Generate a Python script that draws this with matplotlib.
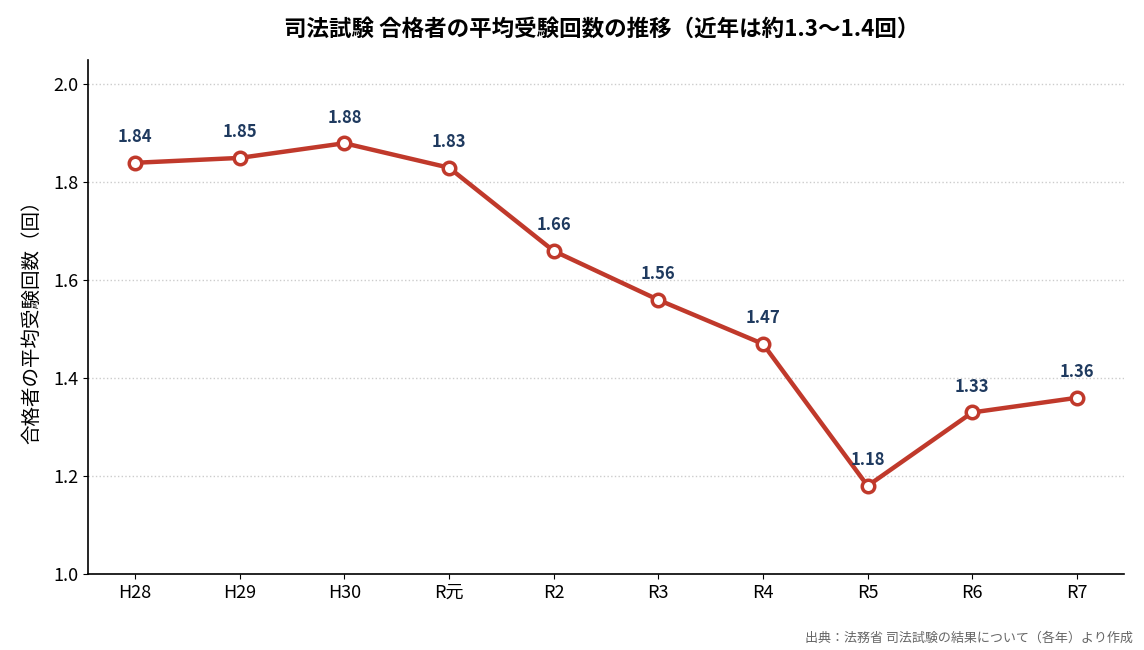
import matplotlib
matplotlib.use("Agg")
import matplotlib.pyplot as plt

plt.rcParams['font.family'] = ['Noto Sans CJK JP', 'DejaVu Sans']

years = ["H28", "H29", "H30", "R元", "R2", "R3", "R4", "R5", "R6", "R7"]
avg_attempts = [1.84, 1.85, 1.88, 1.83, 1.66, 1.56, 1.47, 1.18, 1.33, 1.36]
yticks = [1.0, 1.2, 1.4, 1.6, 1.8, 2.0]

fig = plt.figure(figsize=(11.44, 6.5), dpi=100)
ax = fig.add_axes([88/1144, 1-574/650, (1124-88)/1144, (574-60)/650])

x = list(range(len(years)))
ax.plot(x, avg_attempts, color='#c0392b', linewidth=3.2, marker='o',
        markersize=9, markerfacecolor='white', markeredgecolor='#c0392b',
        markeredgewidth=2.5, zorder=3)

for xi, v in zip(x, avg_attempts):
    ax.annotate(f"{v:.2f}", (xi, v), xytext=(0, 12), textcoords='offset points',
                ha='center', va='bottom', fontsize=12, fontweight='bold',
                color='#1f3a5f')

ax.set_xlim(-0.45, 9.45)
ax.set_ylim(1.0, 2.05)
ax.set_xticks(x)
ax.set_xticklabels(years, fontsize=13)
ax.set_yticks(yticks)
ax.set_yticklabels([f"{t:.1f}" for t in yticks], fontsize=13)
ax.set_ylabel("合格者の平均受験回数（回）", fontsize=14, labelpad=8)
ax.yaxis.grid(True, linestyle=':', color='#cccccc', linewidth=1)
ax.set_axisbelow(True)
for s in ['top', 'right']:
    ax.spines[s].set_visible(False)
ax.spines['left'].set_linewidth(1.2)
ax.spines['bottom'].set_linewidth(1.2)

fig.text(602/1144, 1-29/650, "司法試験 合格者の平均受験回数の推移（近年は約1.3〜1.4回）",
         ha='center', va='center', fontsize=16.2, fontweight='bold')
fig.text(1133/1144, 1-638/650, "出典：法務省 司法試験の結果について（各年）より作成",
         ha='right', va='center', fontsize=9.4, color='#666666')

fig.savefig("out.png", dpi=100)
